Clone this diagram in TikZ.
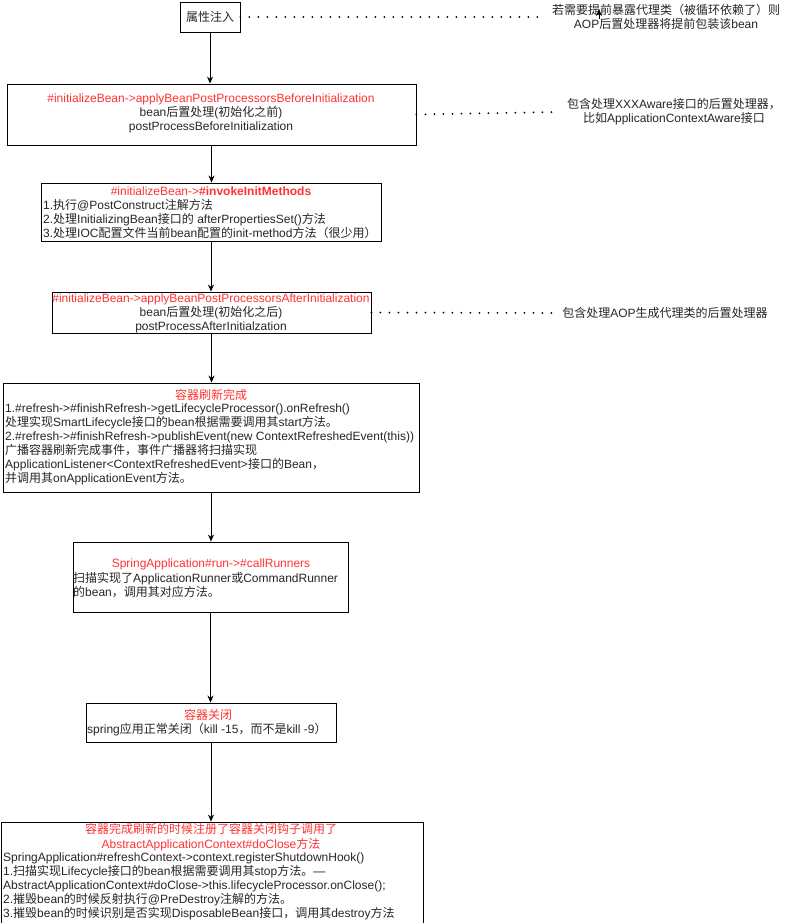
\documentclass[tikz,border=0pt]{standalone}
\usepackage{fontspec}
\setmainfont{Liberation Sans}
\newfontfamily\cjkfont{Noto Sans CJK SC}
\usetikzlibrary{arrows.meta}
\definecolor{dred}{RGB}{255,51,51}
\newXeTeXintercharclass\CJKcls
\newcount\cjkcnt
\def\setcjkrange#1#2{\cjkcnt=#1\relax\loop\XeTeXcharclass\cjkcnt=\CJKcls\relax\ifnum\cjkcnt<#2\relax\advance\cjkcnt by 1\relax\repeat}
\setcjkrange{"4E00}{"9FFF}
\setcjkrange{"3000}{"303F}
\setcjkrange{"FF00}{"FFEF}
\XeTeXinterchartoks 0 \CJKcls = {\cjkfont}
\XeTeXinterchartoks 4095 \CJKcls = {\cjkfont}
\XeTeXinterchartoks \CJKcls 0 = {\normalfont}
\XeTeXinterchartoks \CJKcls 4095 = {\normalfont}
\XeTeXinterchartokenstate=1
\begin{document}
\begin{tikzpicture}[x=1pt,y=-1pt,
  box/.style={draw=black,line width=0.9pt,inner sep=0pt,fill=white},
  txt/.style={inner sep=0pt,font=\fontsize{12}{14}\selectfont,text=black!85},
  arr/.style={draw=black,line width=0.9pt,-{Stealth[length=7pt,width=6pt]}},
  dotline/.style={draw=black,line width=2pt,line cap=round,dash pattern=on 0pt off 9pt}]
\fill[white] (0,0) rectangle (789,923);
\useasboundingbox (0,0) rectangle (789,923);

% boxes
\node[box,minimum width=60pt,minimum height=30pt] (b1) at (210,17) {};
\node[box,minimum width=409pt,minimum height=61pt] (b2) at (211.5,114.5) {};
\node[box,minimum width=340pt,minimum height=58pt] (b3) at (211,212) {};
\node[box,minimum width=319pt,minimum height=41pt] (b4) at (211.5,312.5) {};
\node[box,minimum width=416pt,minimum height=109pt] (b5) at (211,437.5) {};
\node[box,minimum width=275pt,minimum height=70pt] (b6) at (210.5,577) {};
\node[box,minimum width=250pt,minimum height=39pt] (b7) at (211,722.5) {};
\node[box,minimum width=422pt,minimum height=104pt] (b8) at (212,874) {};

% texts in boxes
\node[txt] (l1) at (210,17) {属性注入};
\node[txt,align=center] (l2) at (211,113) {{\color{dred}\#initializeBean->applyBeanPostProcessorsBeforeInitialization}\\bean后置处理(初始化之前)\\postProcessBeforeInitialization};
\node[txt,text=dred] (l3t) at (211,191) {\#initializeBean->\textbf{\#invokeInitMethods}};
\node[txt,align=left,anchor=west] (l3b) at (43,219) {1.执行@PostConstruct注解方法\\2.处理InitializingBean接口的 afterPropertiesSet()方法\\3.处理IOC配置文件当前bean配置的init-method方法（很少用）};
\node[txt,align=center] (l4) at (211,313) {{\color{dred}\#initializeBean->applyBeanPostProcessorsAfterInitialization}\\bean后置处理(初始化之后)\\postProcessAfterInitialzation};
\node[txt,text=dred] (l5t) at (211,395) {容器刷新完成};
\node[txt,align=left,anchor=west] (l5b) at (5,444) {1.\#refresh->\#finishRefresh->getLifecycleProcessor().onRefresh()\\处理实现SmartLifecycle接口的bean根据需要调用其start方法。\\2.\#refresh->\#finishRefresh->publishEvent(new ContextRefreshedEvent(this))\\广播容器刷新完成事件，事件广播器将扫描实现\\ApplicationListener<ContextRefreshedEvent>接口的Bean，\\并调用其onApplicationEvent方法。};
\node[txt,text=dred] (l6t) at (211,564) {SpringApplication\#run->\#callRunners};
\node[txt,align=left,anchor=west] (l6b) at (73,585) {扫描实现了ApplicationRunner或CommandRunner\\的bean，调用其对应方法。};
\node[txt,text=dred] (l7t) at (208,715) {容器关闭};
\node[txt,anchor=west] (l7b) at (87,730) {spring应用正常关闭（kill -15，而不是kill -9）};
\node[txt,align=center,text=dred] (l8t) at (211,837.5) {容器完成刷新的时候注册了容器关闭钩子调用了\\[1pt]AbstractApplicationContext\#doClose方法};
\node[txt,align=left,anchor=west] (l8b) at (3,886) {SpringApplication\#refreshContext->context.registerShutdownHook()\\1.扫描实现Lifecycle接口的bean根据需要调用其stop方法。—\\AbstractApplicationContext\#doClose->this.lifecycleProcessor.onClose();\\2.摧毁bean的时候反射执行@PreDestroy注解的方法。\\3.摧毁bean的时候识别是否实现DisposableBean接口，调用其destroy方法};

% side notes
\node[txt,align=center] (t1) at (666,17) {若需要提前暴露代理类（被循环依赖了）则\\AOP后置处理器将提前包装该bean};
\node[txt,align=center] (t2) at (674,112) {包含处理XXXAware接口的后置处理器，\\比如ApplicationContextAware接口};
\node[txt] (t3) at (665,313) {包含处理AOP生成代理类的后置处理器};

% dotted connectors
\draw[dotline] (b1.east) -- ([xshift=-10pt]t1.west);
\draw[dotline] (b2.east) -- ([xshift=-10pt]t2.west);
\draw[dotline] (b4.east) -- ([xshift=-6pt]t3.west);

% stray arrow end
\coordinate (s1) at (599,19);
\coordinate (s2) at (599,9);
\draw[arr] (s1) -- (s2);

% main flow
\draw[arr] (b1.south) -- (b1.south |- b2.north);
\draw[arr] (b2.south) -- (b2.south |- b3.north);
\draw[arr] (b3.south) -- (b3.south |- b4.north);
\draw[arr] (b4.south) -- (b4.south |- b5.north);
\draw[arr] (b5.south) -- (b5.south |- b6.north);
\draw[arr] (b6.south) -- (b6.south |- b7.north);
\draw[arr] (b7.south) -- (b7.south |- b8.north);
\end{tikzpicture}
\end{document}
